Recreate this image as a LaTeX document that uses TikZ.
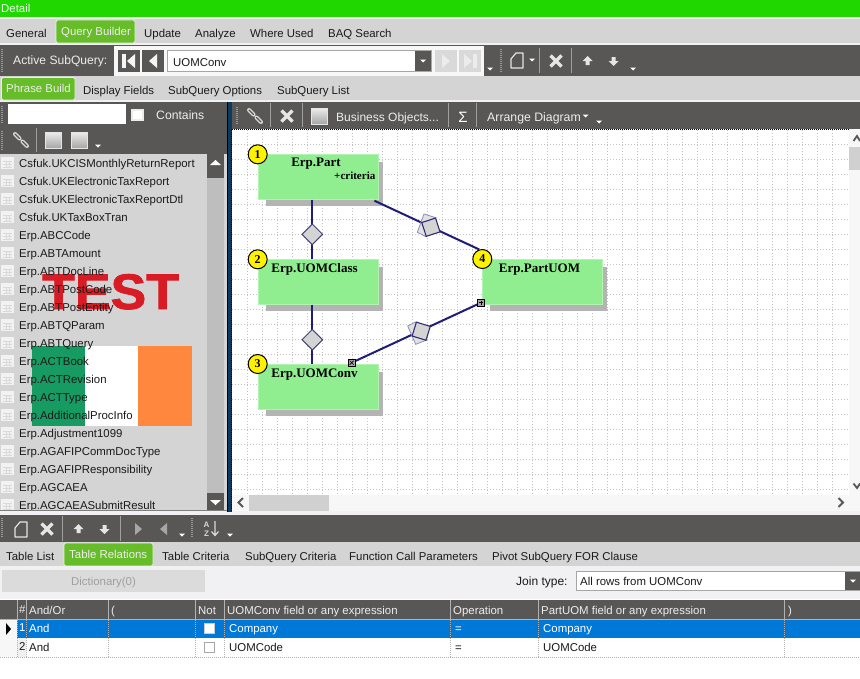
\documentclass[tikz,border=0pt]{standalone}
\usepackage{fontspec}
\setmainfont{Liberation Sans}
\newfontfamily\diagfont{Liberation Serif}
\newfontfamily\testfont[BoldFeatures={FakeBold=1.5}]{Liberation Sans}
\usetikzlibrary{shapes.geometric,calc}
\definecolor{chrome}{HTML}{595755}
\definecolor{band}{HTML}{D4D4D4}
\definecolor{topgreen}{HTML}{20D800}
\definecolor{tabgreen}{HTML}{66BC29}
\definecolor{tabedge}{HTML}{E4F2DA}
\definecolor{paper}{HTML}{F1F1F3}
\definecolor{scroll}{HTML}{BEBEBE}
\definecolor{navy}{HTML}{0B3A5E}
\definecolor{tablegreen}{HTML}{90EE90}
\definecolor{shadowgray}{HTML}{B4B4B4}
\definecolor{wire}{HTML}{1E1E78}
\definecolor{rowblue}{HTML}{0078D7}
\definecolor{ink}{HTML}{1A1A1A}
\definecolor{lighttext}{HTML}{EDEDED}
\definecolor{flaggreen}{HTML}{169B62}
\definecolor{flagorange}{HTML}{FF883E}
\definecolor{testred}{HTML}{D81B24}
\definecolor{gridgray}{HTML}{C4C4C4}
\newcounter{labc}
\tikzset{
  uitext/.style={inner sep=0pt,anchor=base west,text=ink,font=\fontsize{11.4}{13}\selectfont},
  darktext/.style={uitext,text=lighttext},
  tabactive/.style={fill=tabgreen,draw=tabedge,line width=0.8pt,rounded corners=1.5pt},
  sepline/.style={draw=#1,line width=1pt},
  sepline/.default=gray!75,
  griptick/.style={draw=gray!80,line width=2pt,dash pattern=on 1pt off 1pt},
  gridline/.style={draw=gridgray,line width=1pt,dash pattern=on 1.2pt off 1.8pt},
  tablebox/.style={rectangle,draw=tablegreen!70!white,fill=tablegreen,line width=0.8pt,minimum width=120pt,minimum height=45pt,inner sep=0pt},
  badge/.style={circle,draw=black,fill=yellow,line width=1pt,minimum size=19pt,inner sep=0pt,font=\diagfont\bfseries\fontsize{12}{12}\selectfont},
  tabletitle/.style={inner sep=0pt,anchor=base,text=black,font=\diagfont\bfseries\fontsize{13}{13}\selectfont},
  link/.style={draw=wire,line width=2pt},
  joinmark/.style={diamond,aspect=1,draw=wire!60!gray,fill=band,line width=1pt,minimum size=21pt,inner sep=0pt},
  joinsquare/.style={rectangle,draw=wire!85!gray,fill=band,line width=1.1pt,minimum size=14.5pt,inner sep=0pt},
  joinback/.style={draw=wire!50!white,fill=band!70!white,line width=0.8pt},
  handle/.style={rectangle,draw=black,fill=gray!70,line width=0.8pt,minimum size=7pt,inner sep=0pt},
}
\newcommand{\lab}[4][uitext]{\stepcounter{labc}\node[#1] (t\thelabc) at (#2,#3) {#4};}
\newcommand{\dropmark}[2]{\fill[white] (#1-3,#2-1.5) -- (#1+3,#2-1.5) -- (#1,#2+1.5) -- cycle;}
\newcommand{\gripbar}[3]{\draw[griptick] (#1,#2) -- (#1,#3);}
\newcommand{\sepbar}[3]{\draw[sepline] (#1,#2) -- (#1,#3);}
\newcommand{\crossicon}[2]{\draw[white!90!black,line width=3.2pt] (#1-5.5,#2-5.5) -- (#1+5.5,#2+5.5) (#1-5.5,#2+5.5) -- (#1+5.5,#2-5.5);}
\newcommand{\upicon}[2]{\fill[white!90!black] (#1,#2-5) -- (#1+5,#2) -- (#1+2,#2) -- (#1+2,#2+4) -- (#1-2,#2+4) -- (#1-2,#2) -- (#1-5,#2) -- cycle;}
\newcommand{\downicon}[2]{\fill[white!90!black] (#1,#2+5) -- (#1+5,#2) -- (#1+2,#2) -- (#1+2,#2-4) -- (#1-2,#2-4) -- (#1-2,#2) -- (#1-5,#2) -- cycle;}
\newcommand{\docicon}[2]{\draw[white!90!black,line width=1.2pt,line join=round] (#1-6,#2-2) -- (#1-1,#2-8) -- (#1+6,#2-8) -- (#1+6,#2+7) -- (#1-6,#2+7) -- cycle;}
\newcommand{\chainicon}[2]{\draw[white!85!black,line width=4pt,line cap=round] (#1-6,#2-6) -- (#1-1.5,#2-1.5) (#1+1.5,#2+1.5) -- (#1+6,#2+6);\draw[chrome,line width=1.4pt,line cap=round] (#1-6,#2-6) -- (#1-1.5,#2-1.5) (#1+1.5,#2+1.5) -- (#1+6,#2+6);}
\newcommand{\squarebtn}[4]{\shade[top color=white!85!gray,bottom color=gray!70,draw=white!80!gray] (#1,#2) rectangle (#3,#4);}
\newcommand{\listicon}[1]{\fill[white!90!gray] (1,#1-6) rectangle (14,#1+6);\draw[gray!30,line width=0.7pt] (3,#1-2) -- (12,#1-2) (3,#1+1) -- (12,#1+1) (3,#1+4) -- (12,#1+4) (6,#1-2) -- (6,#1+4) (9,#1-2) -- (9,#1+4);}
\begin{document}
\begin{tikzpicture}[x=1pt,y=-1pt]
\useasboundingbox (0,0) rectangle (860,678);
\fill[white] (0,0) rectangle (860,678);
% title bar and tabs
\fill[topgreen] (0,0) rectangle (860,17);
\fill[paper] (0,17) rectangle (860,19);
\fill[band] (0,19) rectangle (860,43);
\fill[paper] (0,43) rectangle (860,45);
\fill[chrome] (0,45) rectangle (860,76);
\fill[band] (0,76) rectangle (860,100);
\fill[paper] (0,100) rectangle (860,102);
\lab[uitext,text=white!92!green]{1}{12.5}{Detail}
\path[tabactive] (56,43) -- (56,20) -- (135,20) -- (135,43) -- cycle;
\lab{6}{37}{General}
\lab[darktext]{61}{35}{Query Builder}
\lab{144}{37}{Update}
\lab{195}{37}{Analyze}
\lab{250}{37}{Where Used}
\lab{328}{37}{BAQ Search}
% active subquery bar
\gripbar{2}{49}{72}
\lab[darktext,font=\fontsize{12.1}{14}\selectfont]{13}{64}{Active SubQuery:}
\fill[white!94!gray] (114,46) rectangle (484,76);
\fill[chrome] (118,50) rectangle (140,72);
\fill[chrome] (142,50) rectangle (164,72);
\fill[white!92!gray] (122,54) rectangle (126,68);
\fill[white!92!gray] (135,54) -- (135,68) -- (127,61) -- cycle;
\fill[white!92!gray] (157,54) -- (157,68) -- (149,61) -- cycle;
\draw[fill=white,draw=gray!70,line width=1pt] (167.5,50.5) rectangle (431,71.5);
\fill[chrome] (415,51) rectangle (431,71);
\dropmark{423}{61}
\lab{173}{66}{UOMConv}
\fill[gray!30] (435,50) rectangle (457,72);
\fill[gray!30] (459,50) rectangle (481,72);
\fill[gray!15] (442,54) -- (442,68) -- (450,61) -- cycle;
\fill[gray!15] (464,54) -- (464,68) -- (472,61) -- cycle;
\fill[gray!15] (473,54) rectangle (477,68);
\dropmark{490}{69}
\gripbar{500.5}{49}{72}
\docicon{517}{61}
\dropmark{532}{60}
\sepbar{539.5}{48}{73}
\crossicon{556}{61}
\sepbar{571.5}{48}{73}
\upicon{587.5}{61}
\downicon{613.5}{61}
\dropmark{633}{69}
% sub tabs
\path[tabactive] (1.5,100) -- (1.5,77.5) -- (75,77.5) -- (75,100) -- cycle;
\lab[darktext]{6}{92}{Phrase Build}
\lab{83}{94}{Display Fields}
\lab{168}{94}{SubQuery Options}
\lab{277}{94}{SubQuery List}
% left panel chrome
\fill[chrome] (0,102) rectangle (227,154);
\gripbar{2}{106}{124}
\fill[white] (8,104) rectangle (126,124);
\draw[fill=white,draw=white!85!gray,line width=1.5pt] (132,110) rectangle (143,120);
\lab[darktext,font=\fontsize{12.2}{14}\selectfont]{156}{119}{Contains}
\gripbar{2}{131}{150}
\chainicon{21}{140}
\sepbar{36.5}{128}{152}
\squarebtn{45}{132}{61}{148}
\squarebtn{71}{132}{87}{148}
\dropmark{98}{146}
% list
\fill[band] (0,154) rectangle (207,510);
\fill[scroll] (207,154) rectangle (224,510);
\fill[band] (224,154) rectangle (227,510);
\fill[chrome] (207,154) rectangle (224,178);
\fill[white] (215.5,160) -- (221,165) -- (210,165) -- cycle;
\fill[chrome] (207,493) rectangle (224,510);
\fill[white] (215.5,505) -- (221,500) -- (210,500) -- cycle;
% overlaid marks
\node[inner sep=0pt,anchor=base west,text=testred,font=\testfont\bfseries\fontsize{50}{50}\selectfont,xscale=1.07] (testmark) at (42,309) {TEST};
\fill[white] (32,346) rectangle (192,426);
\fill[flaggreen] (32,346) rectangle (85,426);
\fill[flagorange] (138,346) rectangle (192,426);
\begin{scope}
\clip (0,154) rectangle (207,510);
\foreach \rowy/\rowname in {163/Csfuk.UKCISMonthlyReturnReport,181/Csfuk.UKElectronicTaxReport,199/Csfuk.UKElectronicTaxReportDtl,217/Csfuk.UKTaxBoxTran,235/Erp.ABCCode,253/Erp.ABTAmount,271/Erp.ABTDocLine,289/Erp.ABTPostCode,307/Erp.ABTPostEntity,325/Erp.ABTQParam,343/Erp.ABTQuery,361/Erp.ACTBook,379/Erp.ACTRevision,397/Erp.ACTType,415/Erp.AdditionalProcInfo,433/Erp.Adjustment1099,451/Erp.AGAFIPCommDocType,469/Erp.AGAFIPResponsibility,487/Erp.AGCAEA,505/Erp.AGCAEASubmitResult}{
  \listicon{\rowy}
  \node[uitext] (item\rowy) at (19,\rowy+4) {\rowname};
}
\end{scope}
\fill[paper] (0,510) rectangle (232,515);
\draw[gray,line width=1pt] (0,510.5) -- (227,510.5);
% right toolbar
\fill[chrome] (232,102) rectangle (860,129);
\gripbar{237}{107}{125}
\chainicon{255}{116}
\sepbar{270.5}{103}{127}
\crossicon{287}{116}
\sepbar{302.5}{103}{127}
\squarebtn{311}{108}{327}{124}
\lab[darktext,font=\fontsize{12}{14}\selectfont]{336}{121}{Business Objects...}
\sepbar{448.5}{103}{127}
\node[inner sep=0pt,anchor=base,text=white,font=\fontsize{15}{15}\selectfont] (sigma) at (463,122) {Σ};
\sepbar{476.5}{103}{127}
\lab[darktext,font=\fontsize{12.3}{14}\selectfont]{487}{121}{Arrange Diagram}
\dropmark{585.5}{116}
\dropmark{599}{122}
% divider
\fill[navy] (227,102) rectangle (232,512);
\fill[black] (227,102) rectangle (228,512);
% canvas
\fill[white] (232,130) rectangle (849,495);
\begin{scope}
\clip (232,130) rectangle (849,495);
\foreach \gx in {247.5,262.5,...,840} {\draw[gridline] (\gx,130) -- (\gx,495);}
\foreach \gy in {144.5,159.5,...,490} {\draw[gridline] (232,\gy) -- (849,\gy);}
\end{scope}
\draw[black,line width=1pt,dash pattern=on 1pt off 1pt] (232,129.5) -- (849,129.5);
\draw[black,line width=1pt,dash pattern=on 1pt off 1pt] (231.5,130) -- (231.5,512);
% scrollbars
\fill[white!94!gray] (849,130) rectangle (860,495);
\fill[white!94!gray] (232,495) rectangle (860,511);
\fill[band!95!gray] (849,147) rectangle (860,170);
\fill[band!95!gray] (249,495) rectangle (329,511);
\draw[chrome,line width=1.8pt] (853.5,141) -- (857,136) -- (860,141);
\draw[chrome,line width=1.8pt] (853.5,483.5) -- (857,488) -- (860,483.5);
\draw[chrome,line width=1.8pt] (243,498) -- (238.5,502.5) -- (243,507);
\draw[chrome,line width=1.8pt] (838.5,498) -- (843,502.5) -- (838.5,507);
\fill[paper] (232,511) rectangle (860,515);
% diagram
\fill[shadowgray] (266,162) rectangle (383,206);
\fill[shadowgray] (266,267) rectangle (383,311);
\fill[shadowgray] (266,372) rectangle (383,416);
\fill[shadowgray] (490,267) rectangle (607,311);
\node[tablebox] (part) at (318,176.8) {};
\node[tablebox] (class) at (318,281.8) {};
\node[tablebox] (conv) at (318,386.8) {};
\node[tablebox] (puom) at (542.5,281.8) {};
\coordinate (dA) at (312.3,234.3);
\coordinate (dB) at (312.3,339.7);
\coordinate (sA) at (430.9,227.2);
\coordinate (sB) at (421.2,331.2);
\node[handle] (hconv) at (351.7,362.7) {};
\node[handle] (hpuom) at (481,302.7) {};
\draw[link] (part.south -| dA) -- (class.north -| dA);
\draw[link] (class.south -| dB) -- (conv.north -| dB);
\coordinate (partexit) at ($(part.south east)+(-4,1)$);
\coordinate (puomentry) at (479.3,249.5);
\draw[link] (partexit) -- (puomentry);
\draw[link] (hconv) -- (hpuom);
\node[joinmark] (jA) at (dA) {};
\node[joinmark] (jB) at (dB) {};
\path[joinback] (417.3,232.3) -- (424,214) -- (435.7,217.7) -- (426,236.7) -- cycle;
\node[joinsquare,rotate=18] (jC) at (sA) {};
\path[joinback] (407.7,326) -- (415.7,322) -- (426,340.3) -- (415.7,344.3) -- cycle;
\node[joinsquare,rotate=-17] (jD) at (sB) {};
\node[handle] at (hconv) {};
\node[handle] at (hpuom) {};
\draw[black,line width=0.6pt] (349.7,360.7) -- (353.7,364.7) (349.7,364.7) -- (353.7,360.7);
\draw[black,line width=0.6pt] (479,302.7) -- (483,302.7) (481,300.7) -- (481,304.7);
\node[tabletitle] (partname) at (316,166) {Erp.Part};
\node[inner sep=0pt,anchor=base east,font=\diagfont\bfseries\fontsize{11}{11}\selectfont] (partcrit) at (375.5,179) {+criteria};
\node[tabletitle] (classname) at (314.5,272) {Erp.UOMClass};
\node[tabletitle] (convname) at (314.5,377) {Erp.UOMConv};
\node[tabletitle] (puomname) at (539.5,272) {Erp.PartUOM};
\node[badge] (n1) at (257.7,154.3) {1};
\node[badge] (n2) at (257.7,259.3) {2};
\node[badge] (n3) at (257.7,364) {3};
\node[badge] (n4) at (482.3,259) {4};
% lower toolbar
\fill[chrome] (0,515) rectangle (860,542);
\gripbar{2}{518}{538}
\docicon{21}{530}
\crossicon{47}{529}
\sepbar{62.5}{516}{541}
\upicon{78.5}{529}
\downicon{104.5}{529}
\sepbar{120.5}{516}{541}
\fill[gray!70] (135,523) -- (135,535) -- (142,529) -- cycle;
\fill[gray!70] (167,523) -- (167,535) -- (160,529) -- cycle;
\dropmark{182}{535}
\gripbar{192}{518}{538}
\node[inner sep=0pt,anchor=base,text=white!85!black,font=\bfseries\fontsize{8}{8}\selectfont] (azA) at (206.5,527) {A};
\node[inner sep=0pt,anchor=base,text=white!85!black,font=\bfseries\fontsize{8}{8}\selectfont] (azZ) at (206.5,536) {Z};
\draw[white!85!black,line width=1.2pt] (215,521) -- (215,535) (211.5,531.5) -- (215,535.5) -- (218.5,531.5);
\dropmark{230}{535}
% lower tabs
\fill[band] (0,542) rectangle (860,566);
\path[tabactive] (64,566) -- (64,543) -- (153,543) -- (153,566) -- cycle;
\lab{6}{560}{Table List}
\lab[darktext]{69}{558}{Table Relations}
\lab{162}{560}{Table Criteria}
\lab{245}{560}{SubQuery Criteria}
\lab{349}{560}{Function Call Parameters}
\lab{492}{560}{Pivot SubQuery FOR Clause}
% join strip
\fill[paper] (0,566) rectangle (860,599);
\fill[gray!28] (2,570) rectangle (205,592);
\node[inner sep=0pt,anchor=base,text=gray!75,font=\fontsize{11.4}{13}\selectfont] (dict) at (103.5,585) {Dictionary(0)};
\lab[uitext,font=\fontsize{12}{14}\selectfont]{516}{585}{Join type:}
\draw[fill=white,draw=gray!70,line width=1pt] (576.5,571.5) rectangle (860,590.5);
\fill[chrome] (845,572) rectangle (860,590);
\dropmark{853}{581}
\lab{580}{585}{All rows from UOMConv}
% grid table
\fill[chrome] (0,600) rectangle (860,619);
\fill[rowblue] (17,620) rectangle (860,638);
\fill[white] (0,638) rectangle (860,657);
\fill[white!94!gray] (0,620) rectangle (17,657);
\fill[white!88!gray] (17,638) rectangle (26,657);
\fill[black] (6,623) -- (11,629) -- (6,635) -- cycle;
\foreach \cx in {17.5,26.5,108.5,195.5,224.5,450.5,538.5,784.5} {
  \draw[gray!60,line width=1pt] (\cx,600) -- (\cx,619);
  \draw[gray!60,line width=1pt,dash pattern=on 1pt off 1pt] (\cx,620) -- (\cx,657);
}
\draw[gray!60,line width=1pt] (0,619.5) -- (860,619.5);
\draw[gray!60,line width=1pt,dash pattern=on 1pt off 1pt] (0,657.5) -- (860,657.5);
\lab[darktext]{19}{613}{\#}
\lab[darktext]{29}{614}{And/Or}
\lab[darktext]{111}{614}{(}
\lab[darktext]{198}{614}{Not}
\lab[darktext]{227}{614}{UOMConv field or any expression}
\lab[darktext]{453}{614}{Operation}
\lab[darktext]{541}{614}{PartUOM field or any expression}
\lab[darktext]{788}{614}{)}
\lab[darktext,text=white]{19}{631}{1}
\lab[darktext,text=white]{29}{632}{And}
\lab[darktext,text=white]{229}{632}{Company}
\lab[darktext,text=white]{455}{632}{=}
\lab[darktext,text=white]{543}{632}{Company}
\lab{19}{650}{2}
\lab{29}{651}{And}
\lab{229}{651}{UOMCode}
\lab{455}{651}{=}
\lab{543}{651}{UOMCode}
\draw[fill=white,draw=gray!40,line width=1pt] (204.5,623.5) rectangle (214.5,633.5);
\draw[fill=white,draw=gray!70,line width=1pt] (204.5,642.5) rectangle (214.5,652.5);
\end{tikzpicture}
\end{document}
